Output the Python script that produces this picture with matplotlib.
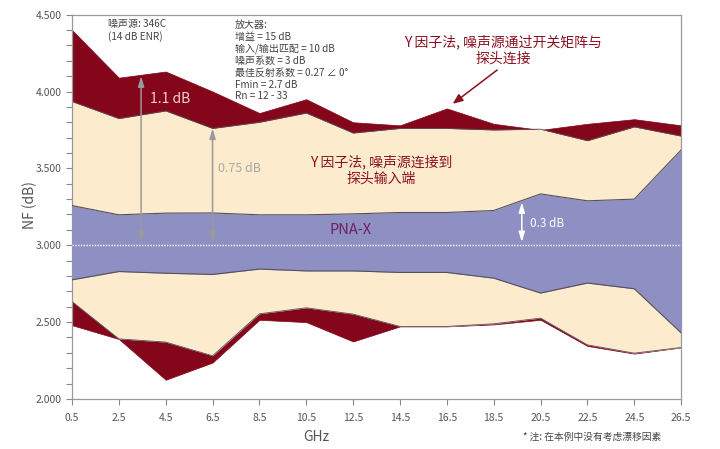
import numpy as np
import matplotlib
matplotlib.use("Agg")
import matplotlib.pyplot as plt
from matplotlib.ticker import MultipleLocator, FormatStrFormatter

plt.rcParams['font.family'] = ['Noto Sans CJK SC', 'DejaVu Sans']

# frequency points (GHz)
freqs = [0.5, 2.5, 4.5, 6.5, 8.5, 10.5, 12.5, 14.5, 16.5, 18.5, 20.5, 22.5, 24.5, 26.5]

# Y-factor via switch matrix (dark red band)
red_hi = [4.40, 4.09, 4.13, 4.00, 3.86, 3.95, 3.80, 3.78, 3.89, 3.79, 3.75, 3.79, 3.82, 3.78]
red_lo = [2.48, 2.39, 2.125, 2.237, 2.515, 2.50, 2.374, 2.472, 2.472, 2.485, 2.515, 2.345, 2.295, 2.335]

# Y-factor direct at probe input (cream band)
cream_hi = [3.935, 3.824, 3.874, 3.76, 3.80, 3.86, 3.73, 3.76, 3.76, 3.75, 3.755, 3.68, 3.77, 3.71]
cream_lo = [2.634, 2.391, 2.37, 2.281, 2.554, 2.593, 2.552, 2.472, 2.472, 2.489, 2.526, 2.352, 2.298, 2.335]

# PNA-X (blue band)
blue_hi = [3.258, 3.198, 3.209, 3.21, 3.198, 3.198, 3.204, 3.213, 3.213, 3.226, 3.334, 3.289, 3.30, 3.62]
blue_lo = [2.775, 2.829, 2.818, 2.81, 2.845, 2.833, 2.833, 2.823, 2.823, 2.786, 2.689, 2.754, 2.717, 2.43]

nominal_nf = 3.0

RED = '#84061b'
CREAM = '#fdebcd'
BLUE = '#8e8fc2'
EDGE = '#55505a'
GRAY_TXT = '#555555'

fig = plt.figure(figsize=(7.2, 4.49), dpi=100)
ax = fig.add_axes([0.1, 0.1114, 0.846, 0.856])

ax.fill_between(freqs, red_lo, red_hi, color=RED, lw=0.5, edgecolor=RED, zorder=1)
ax.fill_between(freqs, cream_lo, cream_hi, color=CREAM, lw=0, zorder=2)
ax.plot(freqs, cream_hi, color=EDGE, lw=0.6, zorder=2.5)
ax.plot(freqs, cream_lo, color=EDGE, lw=0.6, zorder=2.5)
ax.fill_between(freqs, blue_lo, blue_hi, color=BLUE, lw=0, zorder=3)
ax.plot(freqs, blue_hi, color=EDGE, lw=0.8, zorder=3.5)
ax.plot(freqs, blue_lo, color=EDGE, lw=0.8, zorder=3.5)

ax.axhline(nominal_nf, color='white', lw=1.0, ls=(0, (1, 1)), zorder=4)

# spread arrows
def spread(x, y1, y2, color):
    ax.annotate('', xy=(x, y2), xytext=(x, y1),
                arrowprops=dict(arrowstyle='<|-|>,head_length=0.6,head_width=0.18',
                                color=color, lw=1.1, shrinkA=0, shrinkB=0), zorder=5)

spread(3.45, 3.02, 4.10, '#9a9a9a')
spread(6.5, 3.02, 3.76, '#9a9a9a')
spread(19.7, 3.02, 3.28, 'white')

ax.text(3.85, 3.95, '1.1 dB', color='#f4cfd0', fontsize=10, va='center', zorder=6)
ax.text(6.75, 3.50, '0.75 dB', color='#a8a8a8', fontsize=9, va='center', zorder=6)
ax.text(20.05, 3.14, '0.3 dB', color='white', fontsize=8.5, va='center', zorder=6)
ax.text(12.4, 3.10, 'PNA-X', color='#6e2060', fontsize=10.5, ha='center', va='center', zorder=6)
ax.text(13.7, 3.49, 'Y 因子法, 噪声源连接到\n探头输入端', color='#8b1020', fontsize=10,
        ha='center', va='center', linespacing=1.25, zorder=6)
ax.text(18.9, 4.27, 'Y 因子法, 噪声源通过开关矩阵与\n探头连接', color='#8b1020', fontsize=10,
        ha='center', va='center', linespacing=1.25, zorder=6)
ax.annotate('', xy=(16.75, 3.92), xytext=(18.65, 4.14),
            arrowprops=dict(arrowstyle='-|>,head_length=0.6,head_width=0.25',
                            color='#8b1020', lw=1.1, shrinkA=0, shrinkB=0), zorder=6)

ax.text(2.02, 4.47, '噪声源: 346C\n(14 dB ENR)', color='#444444', fontsize=7.2,
        va='top', linespacing=1.25, zorder=6)
amp_lines = ['放大器:', '增益 = 15 dB', '输入/输出匹配 = 10 dB', '噪声系数 = 3 dB',
             '最佳反射系数 = 0.27 ∠ 0°', 'Fmin = 2.7 dB', 'Rn = 12 - 33']
ax.text(7.46, 4.465, '\n'.join(amp_lines), color='#444444', fontsize=7.2,
        va='top', linespacing=1.22, zorder=6)

ax.set_xlim(0.5, 26.5)
ax.set_ylim(2.0, 4.5)
ax.set_xticks(freqs)
ax.set_xticklabels([f'{f:.1f}' for f in freqs])
ax.yaxis.set_major_locator(MultipleLocator(0.5))
ax.yaxis.set_minor_locator(MultipleLocator(0.1))
ax.yaxis.set_major_formatter(FormatStrFormatter('%.3f'))
ax.tick_params(axis='both', which='both', direction='out', colors='#888888',
               labelcolor=GRAY_TXT, labelsize=7.5, length=4, width=0.8)
ax.tick_params(axis='x', pad=6)
for s in ax.spines.values():
    s.set_color('#999999')
    s.set_linewidth(0.9)

fig.text(30 / 720, 1 - 205 / 449, 'NF (dB)', rotation=90, color=GRAY_TXT,
         fontsize=10, ha='center', va='center')
fig.text(316 / 720, 1 - 437 / 449, 'GHz', color=GRAY_TXT, fontsize=10,
         ha='center', va='center')
fig.text(523 / 720, 1 - 437 / 449, '* 注: 在本例中没有考虑漂移因素', color='#444444',
         fontsize=7, ha='left', va='center')

fig.savefig('out.png', dpi=100)
